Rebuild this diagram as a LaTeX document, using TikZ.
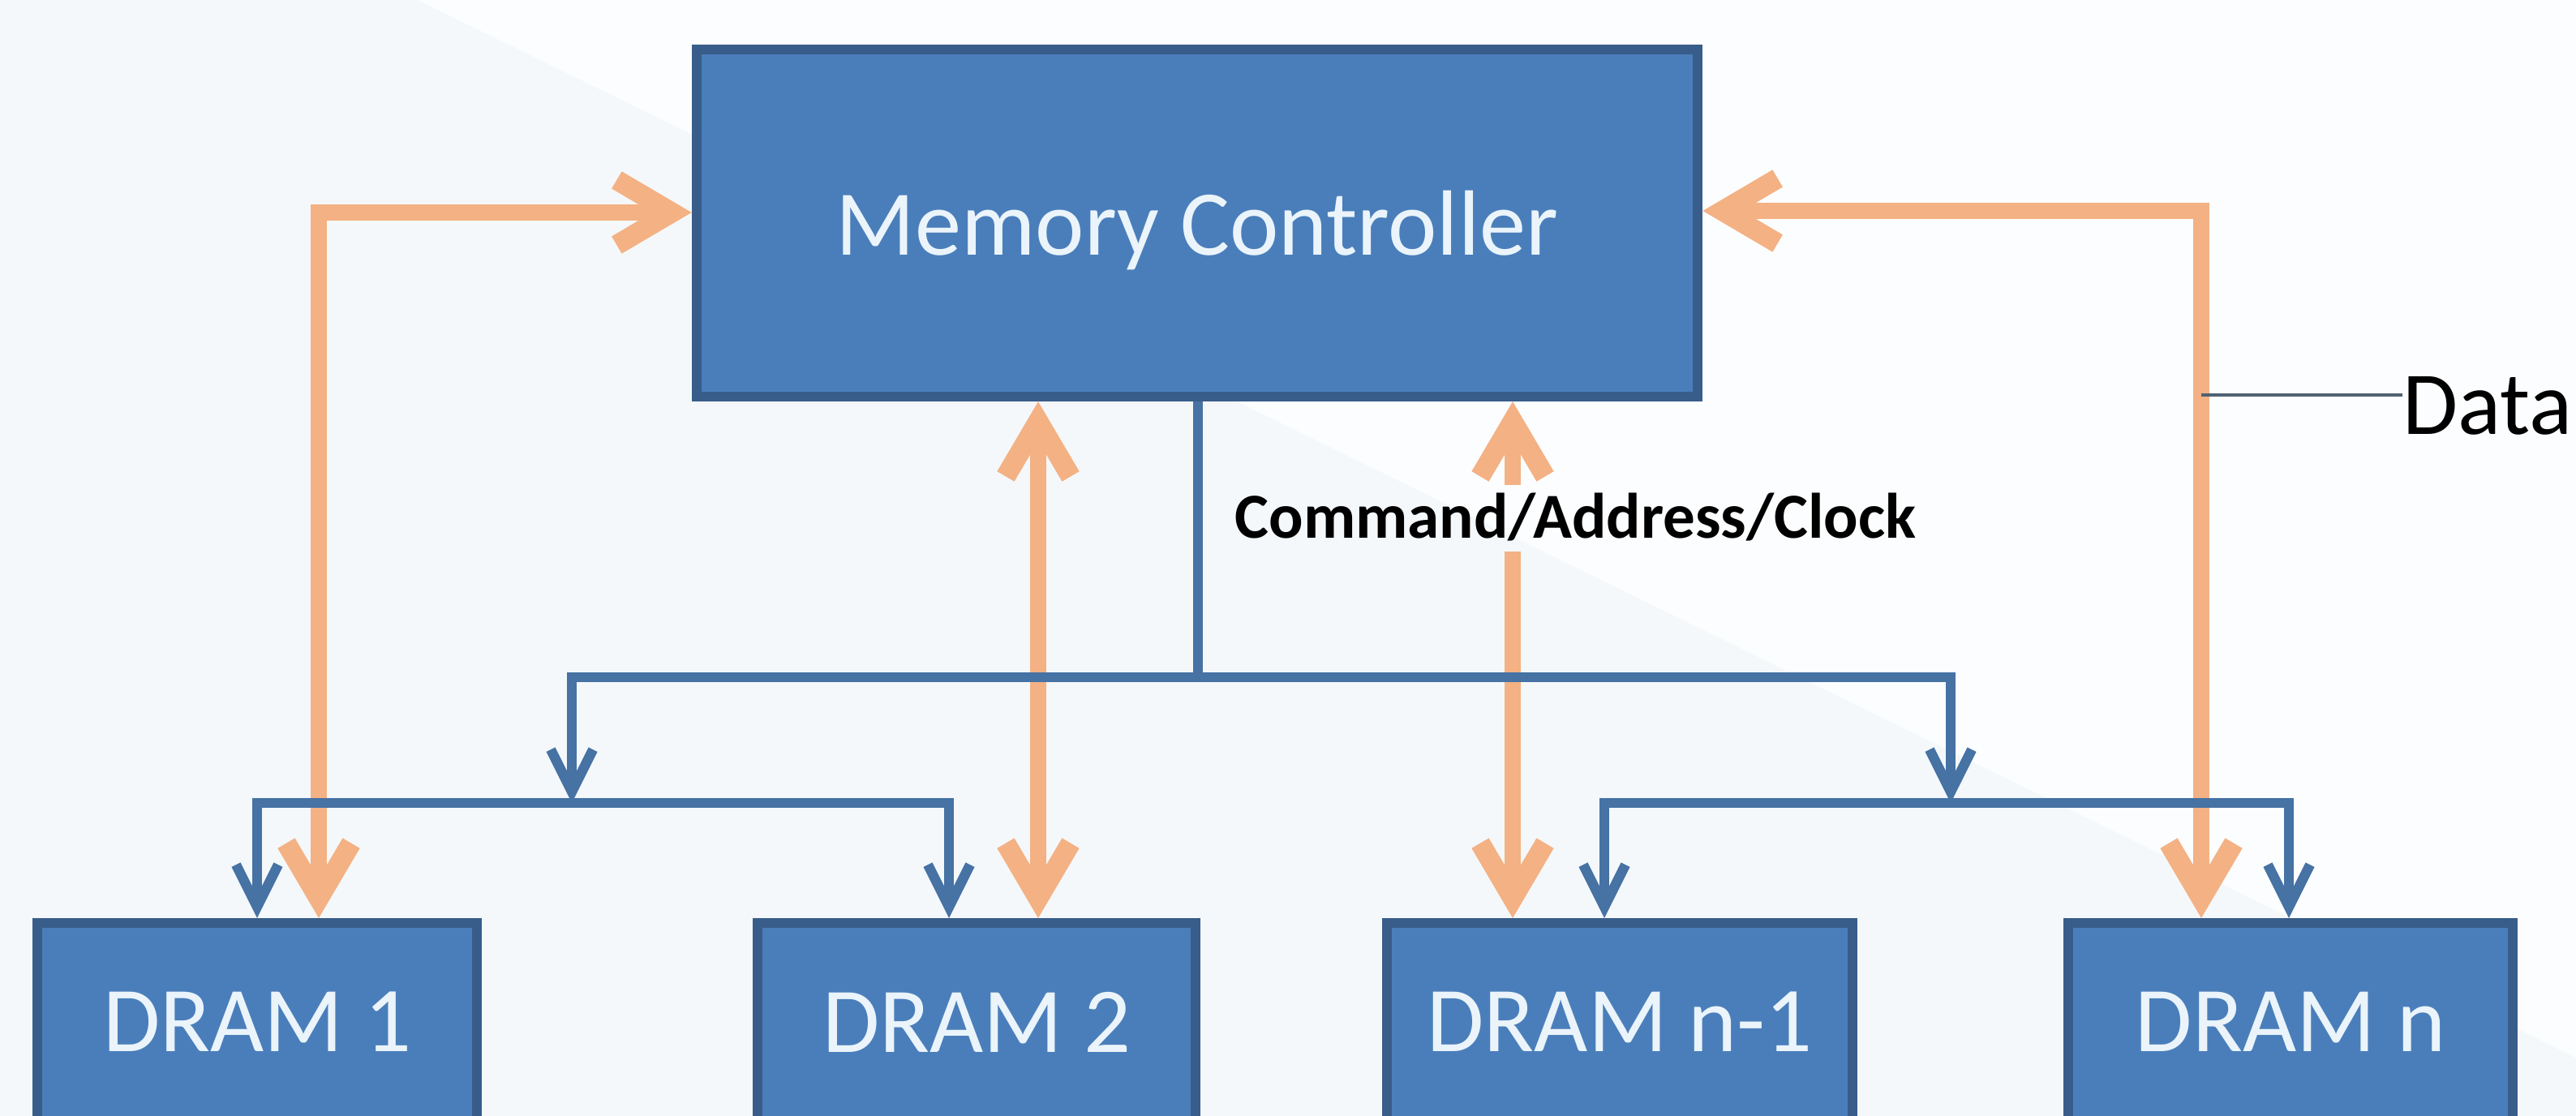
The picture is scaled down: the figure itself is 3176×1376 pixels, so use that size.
\documentclass[tikz,border=0pt]{standalone}
\usepackage{fontspec}
\setmainfont{Carlito}
\usetikzlibrary{arrows.meta}
\definecolor{bgA}{HTML}{F4F8FA}
\definecolor{bgB}{HTML}{FCFDFE}
\definecolor{boxfill}{HTML}{4A7EBB}
\definecolor{boxline}{HTML}{385D8A}
\definecolor{boxtext}{HTML}{EAF4FA}
\definecolor{dataor}{HTML}{F4B183}
\definecolor{cmdblue}{HTML}{4672A4}
\definecolor{leadercol}{HTML}{4F6272}
\tikzset{
  unitbox/.style={draw=boxline, line width=3.4pt, fill=boxfill, text=boxtext,
    inner sep=0pt, font=\fontsize{32.5pt}{38pt}\selectfont},
  drambox/.style={unitbox, minimum height=2.44cm},
  dataline/.style={draw=dataor, line width=5.5pt},
  cmdline/.style={draw=cmdblue, line width=3.5pt},
  otip/.tip={Straight Barb[length=6.8mm, width=8mm, line width'=7pt]},
  btip/.tip={Straight Barb[length=5.2mm, width=5.2mm]},
  cmdlabel/.style={font=\fontsize{22.5pt}{26pt}\selectfont\bfseries, text=black,
    inner xsep=2pt, inner ysep=5pt, text depth=0pt},
  datalabel/.style={font=\fontsize{31.5pt}{36pt}\selectfont, text=black, inner sep=0pt, text depth=0pt},
  leaderline/.style={draw=leadercol, line width=1.2pt}
}
\begin{document}
\begin{tikzpicture}[x=0.01cm, y=-0.01cm]
\useasboundingbox (0,0) rectangle (3176,1376);
\clip (0,0) rectangle (3176,1376);
\fill[bgA] (0,0) rectangle (3176,1376);
\fill[bgB] (515,0) -- (3176,0) -- (3176,1304) -- cycle;

% boxes
\node[unitbox, minimum width=12.34cm, minimum height=4.28cm, text depth=0pt] (mc) at (1476,275) {Memory Controller};
\node[drambox, minimum width=5.42cm] (d1) at (317,1260) {DRAM 1};
\node[drambox, minimum width=5.39cm] (d2) at (1204,1260) {DRAM 2};
\node[drambox, minimum width=5.73cm] (d3) at (1997,1260) {DRAM n-1};
\node[drambox, minimum width=5.47cm] (d4) at (2824,1260) {DRAM n};

% coordinates
\coordinate (oL) at (393,262);
\coordinate (oR) at (2714,260);
\coordinate (oM1) at (1280,700);
\coordinate (oM2) at (1865,700);
\coordinate (cbJ) at (1477,835);
\coordinate (cbL) at (705,835);
\coordinate (cbR) at (2405,835);
\coordinate (sbL1) at (317,990);
\coordinate (sbL2) at (1170,990);
\coordinate (sbR1) at (1978,990);
\coordinate (sbR2) at (2822,990);
\coordinate (dl) at (2714,487);

% data lines
\draw[dataline, otip-otip] (oL |- d1.north) -- (oL) -- (oL -| mc.west);
\draw[dataline, otip-otip] (mc.east |- oR) -- (oR) -- (oR |- d4.north);
\draw[dataline, otip-otip] (mc.south -| oM1) -- (d2.north -| oM1);
\draw[dataline, otip-otip] (mc.south -| oM2) -- (d3.north -| oM2);

% background patch behind the bus label (hides the data line there)
\begin{scope}
  \clip (1512,598) rectangle (2368,680);
  \fill[bgA] (1512,598) rectangle (2368,680);
  \fill[bgB] (515,0) -- (3176,0) -- (3176,1304) -- cycle;
\end{scope}

% command / address / clock bus
\draw[cmdline] (mc.south -| cbJ) -- (cbJ);
\draw[cmdline, line cap=rect] (cbL) -- (cbR);
\draw[cmdline, -btip] (cbL) -- (cbL |- sbL1);
\draw[cmdline, -btip] (cbR) -- (cbR |- sbR1);
\draw[cmdline, line cap=rect] (sbL1) -- (sbL2);
\draw[cmdline, line cap=rect] (sbR1) -- (sbR2);
\draw[cmdline, -btip] (sbL1) -- (sbL1 |- d1.north);
\draw[cmdline, -btip] (sbL2) -- (sbL2 |- d2.north);
\draw[cmdline, -btip] (sbR1) -- (sbR1 |- d3.north);
\draw[cmdline, -btip] (sbR2) -- (sbR2 |- d4.north);

% labels
\node[cmdlabel, anchor=west] (cal) at (1515,636) {Command/Address/Clock};
\node[datalabel, anchor=west] (data) at (2962,500) {Data};
\draw[leaderline] (dl) -- (dl -| data.west);
\end{tikzpicture}
\end{document}
